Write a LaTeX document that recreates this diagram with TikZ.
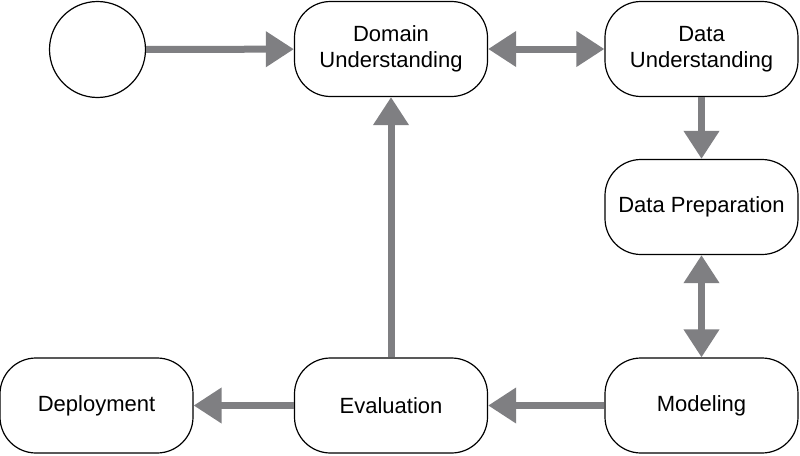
\documentclass[tikz,border=0pt]{standalone}
\usepackage{fontspec}
\setmainfont{Liberation Sans}
\usetikzlibrary{arrows.meta}
\definecolor{arrowgray}{HTML}{7F7F82}
\begin{document}
\begin{tikzpicture}[x=1pt,y=-1pt,
  box/.style={draw=black,line width=1.2pt,rounded corners=36pt,minimum width=193pt,minimum height=95pt,align=center,font=\fontsize{22}{26}\selectfont,inner sep=0pt,fill=white},
  flow/.style={draw=arrowgray,line width=7pt,-{Triangle[length=28pt,width=34pt]}},
  flowboth/.style={draw=arrowgray,line width=7pt,{Triangle[length=28pt,width=34pt]}-{Triangle[length=28pt,width=34pt]}}]
\useasboundingbox (0,0) rectangle (800,455);
\node[draw=black,line width=1.2pt,circle,minimum size=96pt,inner sep=0pt] (start) at (97.5,49.5) {};
\node[box] (du) at (391,49) {Domain\\Understanding};
\node[box] (dau) at (701.5,49) {Data\\Understanding};
\node[box] (dp) at (701.5,207) {Data Preparation};
\node[box] (mo) at (701.5,405.5) {Modeling};
\node[box] (ev) at (391,405.5) {Evaluation};
\node[box] (de) at (96.5,405.5) {Deployment};
\draw[flow] (start) -- (du);
\draw[flowboth] (du) -- (dau);
\draw[flow] (dau) -- (dp);
\draw[flowboth] (dp) -- (mo);
\draw[flow] (mo) -- (ev);
\draw[flow] (ev) -- (du);
\draw[flow] (ev) -- (de);
\end{tikzpicture}
\end{document}
